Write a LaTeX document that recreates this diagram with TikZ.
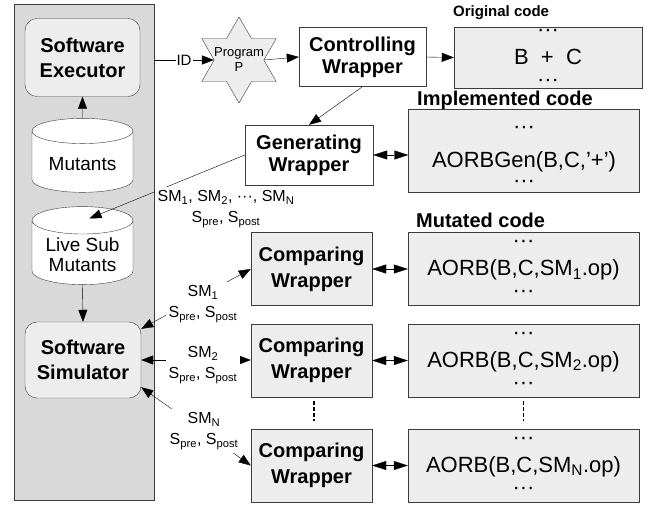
\documentclass[tikz,border=0pt]{standalone}
\usepackage{fontspec}
\setmainfont{Liberation Sans}
\usepackage{tikz}
\definecolor{panelgray}{RGB}{217,217,217}
\definecolor{boxgray}{RGB}{237,237,237}
\definecolor{edgegray}{RGB}{60,60,60}
\usetikzlibrary{shapes.geometric,arrows.meta,calc}

\begin{document}
\begin{tikzpicture}[x=1pt, y=-1pt,
    arr/.style={-{Triangle[length=12pt,width=9pt]}},
    link/.style={{Triangle[length=12pt,width=9pt]}-{Triangle[length=12pt,width=9pt]}},
    dbl/.style={{Triangle[length=14pt,width=9pt]}-{Triangle[length=14pt,width=9pt]}},
    unitbox/.style={draw=edgegray, fill=boxgray, rounded corners=12pt, minimum width=115, minimum height=78, align=center, font=\fontsize{20}{25}\selectfont\bfseries},
    db/.style={draw=edgegray, fill=white, cylinder, shape border rotate=90, aspect=0.34, minimum width=101, align=center, font=\fontsize{19}{20}\selectfont},
    wrapbox/.style={draw=edgegray, minimum width=127, minimum height=59, align=center, font=\fontsize{20}{22}\selectfont\bfseries},
    codebox/.style={draw=edgegray, fill=boxgray, minimum width=231, minimum height=73, inner sep=2pt, align=center, font=\fontsize{22}{25}\selectfont},
    codetitle/.style={anchor=west, inner sep=0, font=\fontsize{20}{24}\selectfont\bfseries},
    smlab/.style={fill=white, inner sep=3pt, align=center, font=\fontsize{16}{21}\selectfont}]
    \useasboundingbox (0,0) rectangle (652,504);

    % Left panel: executor, mutant stores, simulator
    \node[draw=edgegray, fill=panelgray, minimum width=140, minimum height=496, inner sep=0] (panel) at (84,252) {};
    \node[unitbox] (exec) at (82.5,57.5) {Software\\Executor};
    \node[db, minimum height=74] (mutants) at (82.5,164) {Mutants};
    \node[db, minimum height=78] (live) at (82.5,255) {Live Sub\\Mutants};
    \node[unitbox, minimum width=116, minimum height=76] (sim) at (83,360) {Software\\Simulator};
    \draw[arr] (mutants.north) -- (exec.south);
    \draw[arr] (live.south) -- (sim.north);

    % Program and wrappers
    \node[star, star points=6, star point ratio=1.732, minimum size=86, inner sep=0, draw=edgegray, fill=boxgray] (prog) at (239,60) {};
    \node[align=center, font=\fontsize{13}{15}\selectfont] (progtxt) at (prog) {Program\\P};
    \draw[arr] (panel.east |- prog) -- node[fill=white, inner sep=1pt, font=\fontsize{15}{18}\selectfont] (id) {ID} (prog.west);
    \node[wrapbox] (ctrl) at (362.5,57) {Controlling\\Wrapper};
    \node[wrapbox, minimum width=128, minimum height=60] (gen) at (309,155) {Generating\\Wrapper};
    \draw[arr] (prog.east) -- (ctrl.west);
    \draw[arr] (ctrl.south) -- (gen.north);

    % Code boxes
    \node[codebox, minimum width=188, minimum height=61] (orig) at (548,57.5) {···\\[3pt]B~~+~~C\\[-3pt]···};
    \node[codetitle, font=\fontsize{15}{18}\selectfont\bfseries] (origtitle) at (453,13) {Original code};
    \node[codebox, minimum height=83] (impl) at (524,150.5) {\rule{0pt}{20pt}···\\[9pt]AORBGen(B,C,'+')\\[-5pt]···};
    \node[codetitle] (impltitle) at (417,100) {Implemented code};
    \node[codetitle] (muttitle) at (416,220) {Mutated code};
    \draw[arr] (ctrl.east) -- (orig.west);
    \draw[dbl] (gen.east) -- (gen.east -| impl.west);

    % Generated sub mutants
    \draw[arr] (gen.west) -- ($(live.north)+(7,12)$);
    \node[smlab] (smlist) at (226,209) {SM\textsubscript{1}, SM\textsubscript{2}, ···, SM\textsubscript{N}\\S\textsubscript{pre}, S\textsubscript{post}};

    % Comparing wrappers and mutated code
    \foreach \i/\y/\sub in {1/269/1, 2/360.5/2, 3/465.5/N} {
        \node[wrapbox, fill=boxgray, minimum width=121, minimum height=73, font=\fontsize{20}{26}\selectfont\bfseries] (cmp\i) at (311.5,\y) {Comparing\\Wrapper};
        \node[codebox] (mut\i) at (523.5,\y) {···\\[3pt]AORB(B,C,SM\textsubscript{\sub}.op)\\[-3pt]···};
        \draw[dbl] (cmp\i) -- (mut\i);
    }
    \draw[line width=1.5pt, dash pattern=on 4pt off 2pt, shorten <=4pt, shorten >=8pt] ([xshift=2.5pt]cmp2.south) -- ([xshift=2.5pt]cmp3.north);
    \draw[line width=1.5pt, dash pattern=on 4pt off 2pt, shorten <=4pt, shorten >=8pt] (mut2.south) -- (mut3.north);

    % Simulator links
    \draw[link] ($(sim.north east)+(0,7)$) -- (cmp1.west);
    \draw[link] (sim.east) -- (sim.east -| cmp2.west);
    \draw[link] ($(sim.south east)+(0,-11)$) -- (cmp3.west);
    \node[smlab] (lab1) at (203,304) {SM\textsubscript{1}\\S\textsubscript{pre}, S\textsubscript{post}};
    \node[smlab] (lab2) at (203,365) {SM\textsubscript{2}\\S\textsubscript{pre}, S\textsubscript{post}};
    \node[smlab] (lab3) at (204,431) {SM\textsubscript{N}\\S\textsubscript{pre}, S\textsubscript{post}};
\end{tikzpicture}
\end{document}
